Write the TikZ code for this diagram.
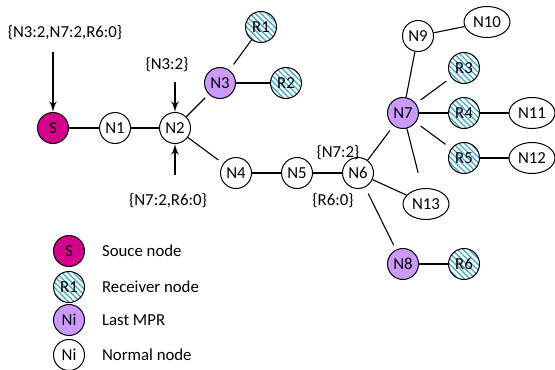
\documentclass[tikz,border=0pt]{standalone}
\usepackage{fontspec}
\setmainfont{Carlito}
\usepackage{tikz}
\usetikzlibrary{shapes,arrows,patterns.meta}
\definecolor{srcmag}{RGB}{212,0,140}
\definecolor{mprlav}{RGB}{204,153,255}
\definecolor{rcvblue}{RGB}{75,172,198}
\tikzstyle{plain} = [draw, circle, fill=white, minimum size=15.5pt, inner sep=0pt, line width=0.5pt]
\tikzstyle{src} = [plain, fill=srcmag]
\tikzstyle{mpr} = [plain, fill=mprlav]
\tikzstyle{rcv} = [plain, pattern={Lines[angle=-45,distance=2pt,line width=0.7pt]}, pattern color=rcvblue]
\tikzstyle{oval} = [draw, ellipse, minimum width=23pt, minimum height=15.5pt, inner sep=0pt, line width=0.5pt]
\tikzstyle{line} = [draw, line width=0.55pt]
\tikzstyle{arrow} = [draw, -latex', line width=0.85pt]

\begin{document}
\begin{tikzpicture}[x=0.5pt, y=-0.5pt, every node/.style={font=\fontsize{8.4}{10}\selectfont}]
      \useasboundingbox (0,0) rectangle (555,369);

      % network
      \node[src] (s) at (53,128) {S};
      \node[plain] (n1) at (115,128) {N1};
      \node[plain] (n2) at (175,128) {N2};
      \node[mpr] (n3) at (220,83) {N3};
      \node[rcv] (r1) at (261,27) {R1};
      \node[rcv] (r2) at (286,83) {R2};
      \node[plain] (n4) at (236,173) {N4};
      \node[plain] (n5) at (297,173) {N5};
      \node[plain] (n6) at (358,173) {N6};
      \node[mpr] (n7) at (403,113) {N7};
      \node[plain] (n9) at (418,36) {N9};
      \node[oval] (n10) at (487,22) {N10};
      \node[rcv] (r3) at (464,68) {R3};
      \node[rcv] (r4) at (464,113) {R4};
      \node[oval] (n11) at (532,113) {N11};
      \node[rcv] (r5) at (464,158) {R5};
      \node[oval] (n12) at (532,158) {N12};
      \node[oval] (n13) at (426,204) {N13};
      \node[mpr] (n8) at (403,264) {N8};
      \node[rcv] (r6) at (464,264) {R6};

      \draw[line] (s) -- (n1);
      \draw[line] (n1) -- (n2);
      \draw[line, shorten >=2.5pt] (n2) -- (n3);
      \draw[line, shorten >=3pt] (n2) -- (n4);
      \draw[line, shorten <=3.5pt] (n3) -- (r1);
      \draw[line] (n3) -- (r2);
      \draw[line] (n4) -- (n5);
      \draw[line] (n5) -- (n6);
      \draw[line, shorten >=3pt] (n6) -- (n7);
      \draw[line] (n6) -- (n13);
      \draw[line, shorten <=3.5pt, shorten >=2.5pt] (n6) -- (n8);
      \draw[line] (n7) -- (n9);
      \draw[line] (n9) -- (n10);
      \draw[line, shorten <=3pt, shorten >=3pt] (n7) -- (r3);
      \draw[line] (n7) -- (r4);
      \draw[line] (r4) -- (n11);
      \draw[line, shorten <=3pt, shorten >=3.5pt] (n7) -- (r5);
      \draw[line] (r5) -- (n12);
      \draw[line, shorten >=8pt] (n7) -- (n13);
      \draw[line] (n8) -- (r6);

      % forwarding lists
      \node (lsrc) at (65,33) {\{N3:2,N7:2,R6:0\}};
      \node (ltop) at (167,65) {\{N3:2\}};
      \node (lbot) at (168,201) {\{N7:2,R6:0\}};
      \node (ln6a) at (338,153) {\{N7:2\}};
      \node (ln6b) at (333,201) {\{R6:0\}};
      \coordinate (asrc) at (53,52);
      \coordinate (atop) at (175,82);
      \coordinate (abot) at (175,175);
      \draw[arrow] (asrc) -- (s.north);
      \draw[arrow] (atop) -- (n2.north);
      \draw[arrow] (abot) -- (n2.south);

      % legend
      \node[src] (ksrc) at (69,251) {S};
      \node[rcv] (krcv) at (69,287) {R1};
      \node[mpr] (kmpr) at (69,320) {Ni};
      \node[plain] (knrm) at (69,355) {Ni};
      \node at (95,251) [anchor=west] {Souce node};
      \node at (95,287) [anchor=west] {Receiver node};
      \node at (95,320) [anchor=west] {Last MPR};
      \node at (95,355) [anchor=west] {Normal node};
    \end{tikzpicture}
\end{document}
